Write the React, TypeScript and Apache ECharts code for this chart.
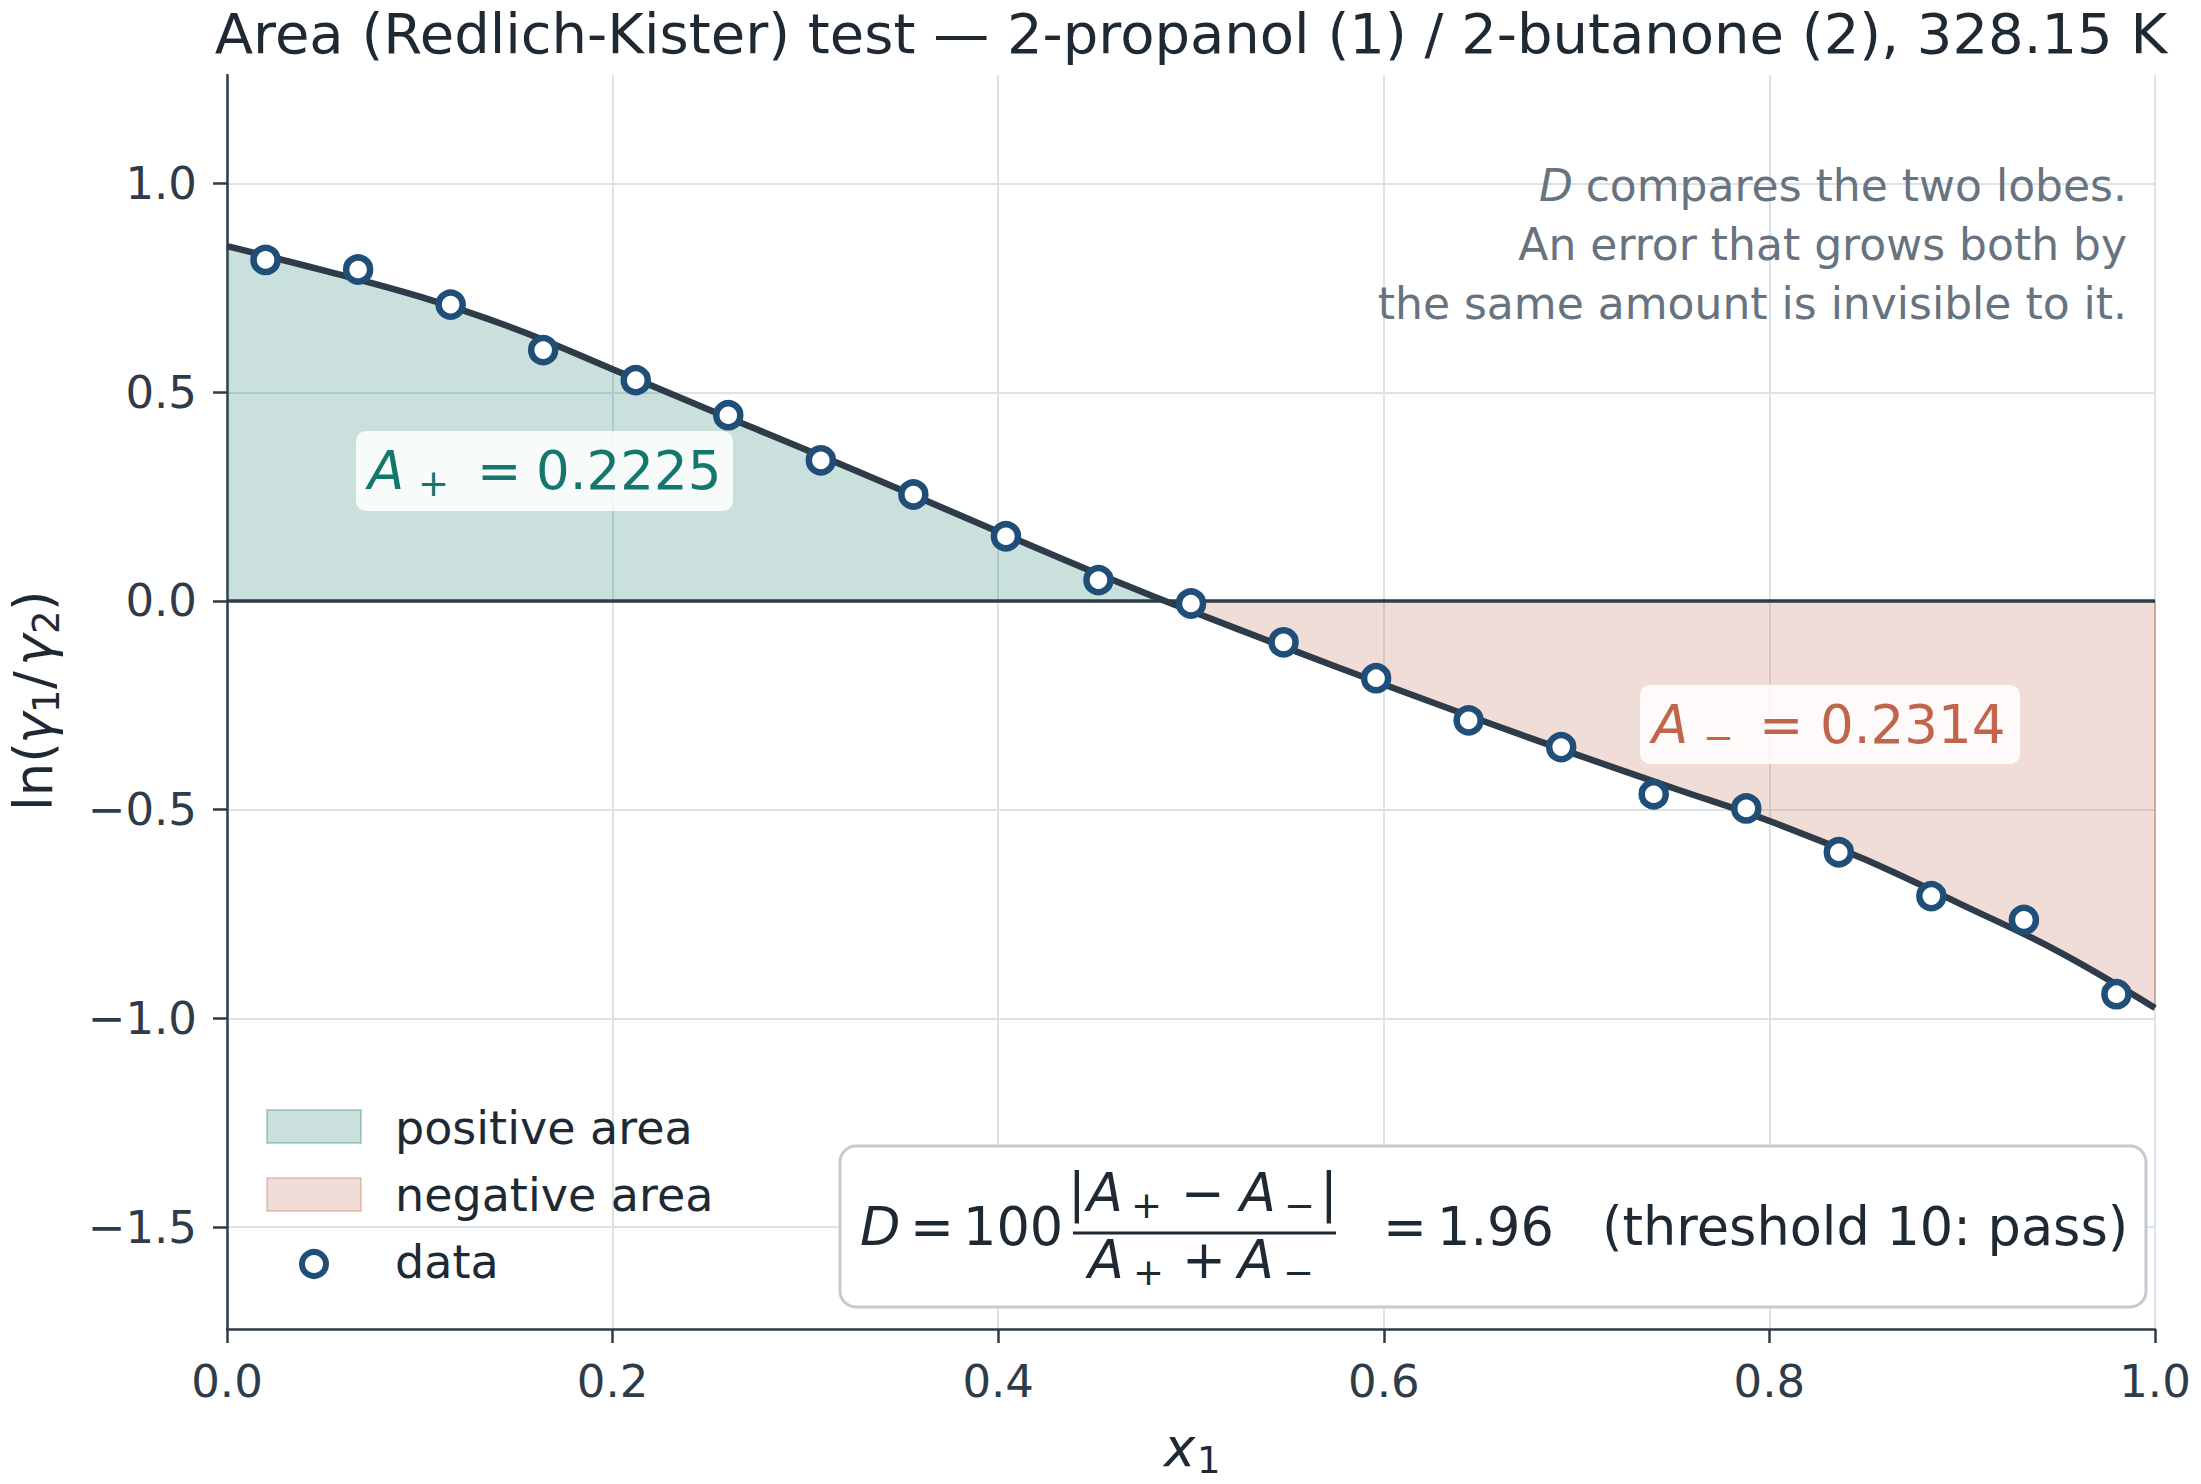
import React, { useEffect, useRef } from "react";
import * as echarts from "echarts";

// ---------------- data ----------------
const TITLE = "Area (Redlich-Kister) test \u2014 2-propanol (1) / 2-butanone (2), 328.15 K";

const DATA_X = [0.02, 0.068, 0.116, 0.164, 0.212, 0.26, 0.308, 0.356, 0.404, 0.452, 0.5, 0.548, 0.596, 0.644, 0.692, 0.74, 0.788, 0.836, 0.884, 0.932, 0.98];
const DATA_Y = [0.817, 0.794, 0.71, 0.601, 0.529, 0.445, 0.337, 0.255, 0.155, 0.05, -0.006, -0.099, -0.185, -0.286, -0.35, -0.463, -0.497, -0.602, -0.707, -0.764, -0.942];

const CURVE_X = [0, 0.05, 0.1, 0.15, 0.2, 0.25, 0.3, 0.35, 0.4, 0.45, 0.5, 0.55, 0.6, 0.65, 0.7, 0.75, 0.8, 0.85, 0.9, 0.95, 1.0];
const CURVE_Y = [0.85, 0.792, 0.729, 0.651, 0.555, 0.458, 0.363, 0.265, 0.166, 0.068, -0.024, -0.113, -0.2, -0.285, -0.368, -0.448, -0.527, -0.62, -0.728, -0.84, -0.975];
const ROOT_X = 0.4865;

const X_TICKS = [0, 0.2, 0.4, 0.6, 0.8, 1.0];
const Y_TICKS = [-1.5, -1.0, -0.5, 0, 0.5, 1.0];
const X_RANGE = [0, 1];
const Y_RANGE = [-1.744, 1.26];

const A_POS = "0.2225";
const A_NEG = "0.2314";
const D_VALUE = "1.96";
const THRESHOLD_TEXT = "(threshold 10: pass)";
const NOTE_FIRST = " compares the two lobes.";
const NOTE_LINES = ["An error that grows both by", "the same amount is invisible to it."];
const LEGEND_LABELS = ["positive area", "negative area", "data"];

// ---------------- styles ----------------
const FONT = '"DejaVu Sans", "Liberation Sans", sans-serif';
const DARK = "#1e2933";
const TICK = "#2f3b47";
const AXIS = "#2f3b47";
const GRID = "#dde2e6";
const CURVE = "#2e3b48";
const MARK = "#1f4e79";
const TEAL = "#13776c";
const SALMON = "#c0654c";
const TEAL_FILL = "rgba(22,120,110,0.23)";
const SALMON_FILL = "rgba(192,102,77,0.22)";
const NOTE = "#67737f";
const CB = 0.33; // central-baseline offset (fraction of font size)

function txt(x: number, base: number, text: string, size: number, color: string, o: { italic?: boolean; align?: string } = {}) {
  return {
    type: "text",
    x,
    y: base - CB * size,
    z: 100,
    silent: true,
    style: {
      text,
      font: `${o.italic ? "italic " : ""}${size}px ${FONT}`,
      fill: color,
      textAlign: o.align || "left",
      textVerticalAlign: "middle",
    },
  };
}

function fmtTick(v: number) {
  const s = Math.abs(v) < 1e-9 ? "0.0" : v.toFixed(1);
  return s.replace("-", "\u2212");
}

function buildOption() {
  const curvePts = CURVE_X.map((x, i) => [x, CURVE_Y[i]]);
  const posPts = [...curvePts.filter((p) => p[0] < ROOT_X), [ROOT_X, 0]];
  const negPts = [[ROOT_X, 0], ...curvePts.filter((p) => p[0] > ROOT_X)];
  const fullCurve = [...posPts, ...negPts.slice(1)];
  const lastX = CURVE_X[CURVE_X.length - 1];
  const lastY = CURVE_Y[CURVE_Y.length - 1];
  const scatter = DATA_X.map((x, i) => [x, DATA_Y[i]]);

  const F = 52.5; // formula font
  const S = 37; // subscript font
  const SH = 8; // subscript shift
  const AL = 53; // A-label font
  const YL = 53; // axis label font

  const graphics: any[] = [
    // y axis label (rotated)
    {
      type: "group",
      x: 51,
      y: 811,
      rotation: Math.PI / 2,
      z: 100,
      children: [
        txt(0, 0, "ln(", YL, DARK),
        txt(67, 0, "\u03b3", YL, DARK, { italic: true }),
        txt(98, SH, "1", S, DARK),
        txt(122, 0, "/", YL, DARK),
        txt(145, 0, "\u03b3", YL, DARK, { italic: true }),
        txt(177, SH, "2", S, DARK),
        txt(200, 0, ")", YL, DARK),
      ],
    },
    // x axis label
    txt(1164, 1465, "x", YL, DARK, { italic: true }),
    txt(1197, 1473, "1", S, DARK),

    // note, top right
    txt(1539, 200, "D", 44, NOTE, { italic: true }),
    txt(2127, 200, NOTE_FIRST, 44, NOTE, { align: "right" }),
    txt(2127, 259, NOTE_LINES[0], 44, NOTE, { align: "right" }),
    txt(2127, 318, NOTE_LINES[1], 44, NOTE, { align: "right" }),

    // A+ label
    { type: "rect", z: 95, silent: true, shape: { x: 356, y: 431, width: 377, height: 80, r: 10 }, style: { fill: "rgba(255,255,255,0.85)" } },
    txt(368, 488, "A", AL, TEAL, { italic: true }),
    txt(418, 488 + SH, "+", S, TEAL),
    txt(477, 488, "=", AL, TEAL),
    txt(536, 488, A_POS, AL, TEAL),

    // A- label
    { type: "rect", z: 95, silent: true, shape: { x: 1640, y: 685, width: 380, height: 79, r: 10 }, style: { fill: "rgba(255,255,255,0.85)" } },
    txt(1652, 742, "A", AL, SALMON, { italic: true }),
    txt(1703, 742 + SH, "\u2212", S, SALMON),
    txt(1759, 742, "=", AL, SALMON),
    txt(1820, 742, A_NEG, AL, SALMON),

    // legend
    { type: "rect", z: 95, silent: true, shape: { x: 267, y: 1110, width: 94, height: 33 }, style: { fill: TEAL_FILL, stroke: "rgba(22,120,110,0.3)", lineWidth: 2 } },
    { type: "rect", z: 95, silent: true, shape: { x: 267, y: 1178, width: 94, height: 33 }, style: { fill: SALMON_FILL, stroke: "rgba(192,102,77,0.3)", lineWidth: 2 } },
    { type: "circle", z: 95, silent: true, shape: { cx: 314, cy: 1264, r: 12 }, style: { fill: "#ffffff", stroke: MARK, lineWidth: 6 } },
    txt(395, 1143, LEGEND_LABELS[0], 46, DARK),
    txt(395, 1210, LEGEND_LABELS[1], 46, DARK),
    txt(395, 1277, LEGEND_LABELS[2], 46, DARK),

    // formula box
    { type: "rect", z: 90, silent: true, shape: { x: 840, y: 1146, width: 1306, height: 161, r: 16 }, style: { fill: "#ffffff", stroke: "#c3cad1", lineWidth: 3 } },
    txt(860, 1244, "D", F, DARK, { italic: true }),
    txt(910, 1244, "=", F, DARK),
    txt(963, 1244, "100", F, DARK),
    // numerator
    txt(1068, 1210, "|", F, DARK),
    txt(1087, 1210, "A", F, DARK, { italic: true }),
    txt(1131, 1210 + SH, "+", S, DARK),
    txt(1181, 1210, "\u2212", F, DARK),
    txt(1240, 1210, "A", F, DARK, { italic: true }),
    txt(1284, 1210 + SH, "\u2212", S, DARK),
    txt(1320, 1210, "|", F, DARK),
    { type: "line", z: 100, silent: true, shape: { x1: 1073, y1: 1233, x2: 1336, y2: 1233 }, style: { stroke: DARK, lineWidth: 3 } },
    // denominator
    txt(1088, 1277, "A", F, DARK, { italic: true }),
    txt(1133, 1277 + SH, "+", S, DARK),
    txt(1182, 1277, "+", F, DARK),
    txt(1238, 1277, "A", F, DARK, { italic: true }),
    txt(1283, 1277 + SH, "\u2212", S, DARK),
    // result
    txt(1383, 1244, "=", F, DARK),
    txt(1437, 1244, D_VALUE, F, DARK),
    txt(1602, 1244, THRESHOLD_TEXT, F, DARK),
  ];

  return {
    animation: false,
    backgroundColor: "#ffffff",
    textStyle: { fontFamily: FONT },
    title: {
      text: TITLE,
      left: 1191,
      top: 5,
      padding: 0,
      textAlign: "center",
      textStyle: { fontSize: 56, fontWeight: "normal", color: DARK, fontFamily: FONT },
    },
    grid: { left: 227, right: 46, top: 75, bottom: 155, containLabel: false },
    xAxis: {
      type: "value",
      min: X_RANGE[0],
      max: X_RANGE[1],
      interval: 0.2,
      axisLine: { show: true, onZero: false, lineStyle: { color: AXIS, width: 2.5 } },
      axisTick: { show: true, length: 14, customValues: X_TICKS, lineStyle: { color: AXIS, width: 2.5 } },
      axisLabel: { customValues: X_TICKS, fontSize: 45, color: TICK, margin: 30, fontFamily: FONT, formatter: (v: number) => fmtTick(v) },
      splitLine: { show: true, lineStyle: { color: GRID, width: 2 } },
    },
    yAxis: {
      type: "value",
      min: Y_RANGE[0],
      max: Y_RANGE[1],
      axisLine: { show: true, onZero: false, lineStyle: { color: AXIS, width: 2.5 } },
      axisTick: { show: true, length: 14, customValues: Y_TICKS, lineStyle: { color: AXIS, width: 2.5 } },
      axisLabel: { customValues: Y_TICKS, fontSize: 45, color: TICK, margin: 30, fontFamily: FONT, formatter: (v: number) => fmtTick(v) },
      splitLine: { show: true, lineStyle: { color: GRID, width: 2 } },
    },
    series: [
      {
        name: "positive area",
        type: "line",
        data: posPts,
        smooth: 0.4,
        symbol: "none",
        silent: true,
        lineStyle: { width: 0, opacity: 0 },
        areaStyle: { color: TEAL_FILL, origin: 0, opacity: 1 },
        z: 1,
      },
      {
        name: "negative area",
        type: "line",
        data: negPts,
        smooth: 0.4,
        symbol: "none",
        silent: true,
        lineStyle: { width: 0, opacity: 0 },
        areaStyle: { color: SALMON_FILL, origin: 0, opacity: 1 },
        z: 1,
        markLine: {
          silent: true,
          z: 5,
          symbol: ["none", "none"],
          label: { show: false },
          lineStyle: { color: CURVE, width: 3.5, type: "solid" },
          data: [{ yAxis: 0 }],
        },
      },
      {
        name: "edge",
        type: "line",
        data: [[lastX, 0], [lastX, lastY]],
        symbol: "none",
        silent: true,
        lineStyle: { color: "rgba(192,102,77,0.4)", width: 2 },
        z: 2,
      },
      {
        name: "fit",
        type: "line",
        data: fullCurve,
        smooth: 0.4,
        symbol: "none",
        silent: true,
        lineStyle: { color: CURVE, width: 6.5 },
        z: 6,
      },
      {
        name: "data",
        type: "scatter",
        data: scatter,
        symbol: "circle",
        symbolSize: 24,
        itemStyle: { color: "#ffffff", borderColor: MARK, borderWidth: 6.5, opacity: 1 },
        z: 7,
      },
    ],
    graphic: { elements: graphics },
  };
}

export default function App() {
  const ref = useRef<HTMLDivElement>(null);
  useEffect(() => {
    if (!ref.current) return;
    const chart = echarts.init(ref.current, undefined, { renderer: "svg" });
    chart.setOption(buildOption() as any);
    return () => chart.dispose();
  }, []);
  return (
    <div
      ref={ref}
      style={{ position: "fixed", left: 0, top: 0, width: 2201, height: 1484, background: "#ffffff" }}
    />
  );
}
